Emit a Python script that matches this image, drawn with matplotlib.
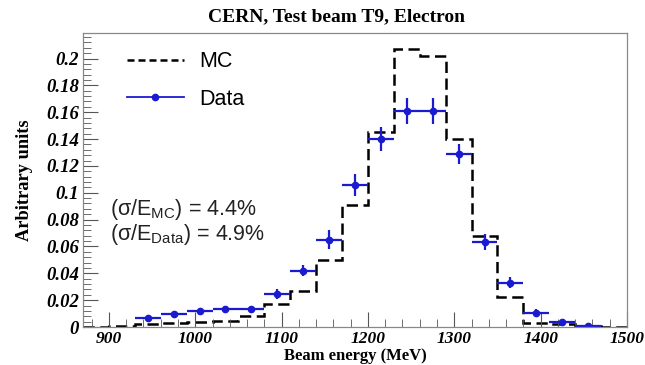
import numpy as np
import matplotlib
matplotlib.use("Agg")
import matplotlib.pyplot as plt
from matplotlib.ticker import MultipleLocator, FuncFormatter
from matplotlib.lines import Line2D
from matplotlib.font_manager import FontProperties

plt.rcParams['mathtext.fontset'] = 'custom'
plt.rcParams['mathtext.rm'] = 'Liberation Sans'
plt.rcParams['mathtext.it'] = 'Liberation Sans:italic'

# 30 MeV bins from 870 to 1500 MeV
bin_edges = np.arange(870, 1501, 30)
mc_values = [0.0, 0.0005, 0.002, 0.003, 0.004, 0.0045, 0.008, 0.017, 0.027,
             0.050, 0.091, 0.145, 0.207, 0.2015, 0.140, 0.068, 0.022, 0.003,
             0.002, 0.0005, 0.0]

data_energy = [945, 975, 1005, 1035, 1065, 1095, 1125, 1155, 1185, 1215,
               1245, 1275, 1305, 1335, 1365, 1395, 1425, 1455]
data_values = [0.0065, 0.0094, 0.0119, 0.0131, 0.0131, 0.0245, 0.042, 0.065,
               0.1056, 0.1403, 0.161, 0.161, 0.129, 0.0634, 0.033, 0.0107,
               0.004, 0.0004]
data_errors = [0.002, 0.002, 0.0025, 0.0025, 0.0025, 0.004, 0.004, 0.007,
               0.008, 0.009, 0.0099, 0.0099, 0.0075, 0.006, 0.0043, 0.0025,
               0.0015, 0.001]
bin_half_width = 15

res_mc = 4.4
res_data = 4.9

fig = plt.figure(figsize=(6.45, 3.65), dpi=100)
ax = fig.add_axes([83/645, 38/365, 544/645, 294/365])

blue = '#1a1ad0'
ax.stairs(mc_values, bin_edges, color='black', linewidth=1.8,
          linestyle=(0, (4.5, 2.2)))
ax.errorbar(data_energy, data_values, yerr=data_errors, xerr=bin_half_width,
            fmt='o', color=blue, markersize=4.5, elinewidth=1.6, capsize=0)

ax.set_xlim(870, 1500)
ax.set_ylim(0, 0.219)

xtick_font = FontProperties(family='Liberation Serif', weight='bold',
                            style='italic', size=12.5)
ytick_font = FontProperties(family='Liberation Serif', weight='bold',
                            style='italic', size=13.5)
ax.xaxis.set_major_locator(MultipleLocator(100))
ax.xaxis.set_minor_locator(MultipleLocator(20))
ax.yaxis.set_major_locator(MultipleLocator(0.02))
ax.yaxis.set_minor_locator(MultipleLocator(0.004))
ax.yaxis.set_major_formatter(FuncFormatter(lambda v, p: ('%g' % round(v, 3))))
ax.tick_params(which='both', direction='in', top=False, right=False,
               color='#555555')
ax.tick_params(which='major', length=11, width=0.8)
ax.tick_params(which='minor', length=5.5, width=0.6)
for lab in ax.get_xticklabels():
    lab.set_fontproperties(xtick_font)
for lab in ax.get_yticklabels():
    lab.set_fontproperties(ytick_font)
ax.tick_params(axis='x', pad=3)
ax.tick_params(axis='y', pad=3)
for s in ax.spines.values():
    s.set_color('#888888')
    s.set_linewidth(0.9)

ax.set_xlabel('Beam energy (MeV)', family='Liberation Serif', weight='bold',
              fontsize=12)
ax.xaxis.set_label_coords(0.5, -0.072)
ax.set_ylabel('Arbitrary units', family='Liberation Serif', weight='bold',
              fontsize=13.2)
ax.yaxis.set_label_coords(-0.108, 0.5)
ax.yaxis.label.set_verticalalignment('center')

fig.text(336/645, 0.953, 'CERN, Test beam T9, Electron', ha='center',
         va='center', family='Liberation Serif', weight='bold', fontsize=14)

handles = [
    Line2D([], [], color='black', linewidth=1.8, linestyle=(0, (2.8, 1.6))),
    Line2D([], [], color=blue, linewidth=1.3, marker='o', markersize=4.5),
]
ax.legend(handles, ['MC', 'Data'], loc='upper left',
          bbox_to_anchor=(0.061, 0.975), frameon=False, borderpad=0,
          handlelength=2.65, handletextpad=0.7, labelspacing=0.78,
          prop=dict(family='Liberation Sans', size=15.5))

ax.text(0.05, 0.398, '(σ/E$_{\\mathrm{MC}}$) = %.1f%%' % res_mc,
        transform=ax.transAxes, family='Liberation Sans', fontsize=15.5,
        color='#222222', va='center')
ax.text(0.05, 0.316, '(σ/E$_{\\mathrm{Data}}$) = %.1f%%' % res_data,
        transform=ax.transAxes, family='Liberation Sans', fontsize=15.5,
        color='#222222', va='center')

fig.savefig('out.png', dpi=100)
